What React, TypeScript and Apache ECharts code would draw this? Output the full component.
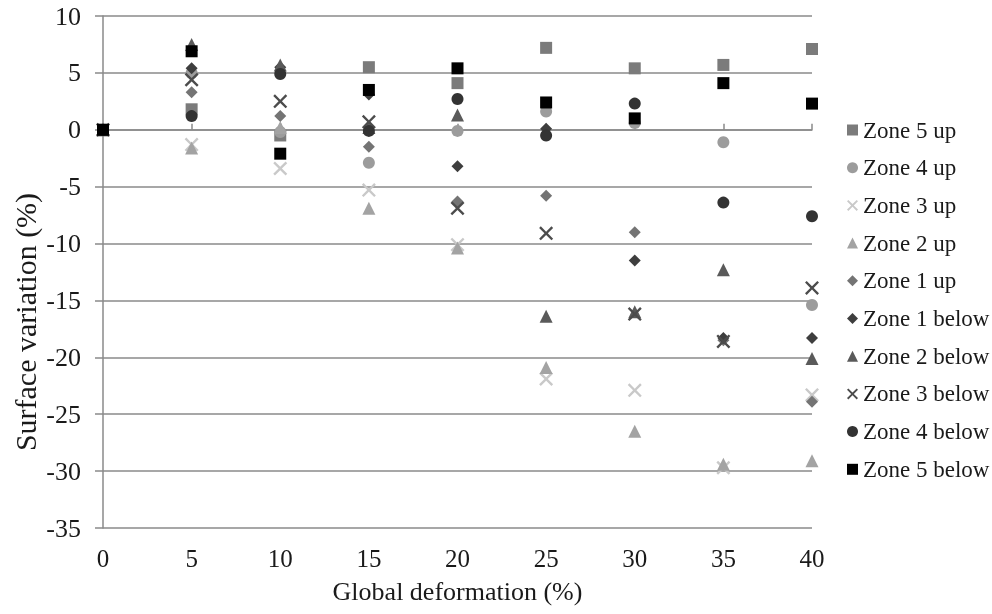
import React, { useEffect, useRef } from "react";
import * as echarts from "echarts";

const xValues = [0, 5, 10, 15, 20, 25, 30, 35, 40];

const seriesNames = [
  "Zone 5 up",
  "Zone 4 up",
  "Zone 3 up",
  "Zone 2 up",
  "Zone 1 up",
  "Zone 1 below",
  "Zone 2 below",
  "Zone 3 below",
  "Zone 4 below",
  "Zone 5 below",
];

const zone5up = [0, 1.8, -0.5, 5.5, 4.1, 7.2, 5.4, 5.7, 7.1];
const zone4up = [0, 5.0, -0.2, -2.9, -0.1, 1.6, 0.6, -1.1, -15.4];
const zone3up = [0, -1.3, -3.4, -5.3, -10.1, -21.9, -22.9, -29.7, -23.3];
const zone2up = [0, -1.6, 0.2, -6.9, -10.4, -20.9, -26.5, -29.4, -29.1];
const zone1up = [0, 3.3, 1.2, -1.5, -6.3, -5.8, -9.0, -18.5, -23.9];
const zone1below = [0, 5.4, 5.5, 3.1, -3.2, 0.1, -11.5, -18.3, -18.3];
const zone2below = [0, 7.5, 5.7, 0.2, 1.3, -16.4, -16.0, -12.3, -20.1];
const zone3below = [0, 4.4, 2.5, 0.7, -6.9, -9.1, -16.2, -18.6, -13.9];
const zone4below = [0, 1.2, 4.9, -0.1, 2.7, -0.5, 2.3, -6.4, -7.6];
const zone5below = [0, 6.9, -2.1, 3.5, 5.4, 2.4, 1.0, 4.1, 2.3];

const seriesValues = [
  zone5up,
  zone4up,
  zone3up,
  zone2up,
  zone1up,
  zone1below,
  zone2below,
  zone3below,
  zone4below,
  zone5below,
];

const yTicks = { min: -35, max: 10, interval: 5 };

const X_PATH =
  "path://M0,1.2L1.2,0L5,3.8L8.8,0L10,1.2L6.2,5L10,8.8L8.8,10L5,6.2L1.2,10L0,8.8L3.8,5Z";

const styles = [
  { symbol: "rect", size: 12, color: "#7b7b7b" },
  { symbol: "circle", size: 12, color: "#9c9c9c" },
  { symbol: X_PATH, size: 14, color: "#c9c9c9" },
  { symbol: "triangle", size: 13, color: "#a3a3a3" },
  { symbol: "diamond", size: 12, color: "#747474" },
  { symbol: "diamond", size: 12, color: "#3e3e3e" },
  { symbol: "triangle", size: 13, color: "#5a5a5a" },
  { symbol: X_PATH, size: 14, color: "#4c4c4c" },
  { symbol: "circle", size: 12, color: "#333333" },
  { symbol: "rect", size: 12, color: "#000000" },
];

const FONT = "Liberation Serif";
const GRID_COLOR = "#8a8a8a";

export default function App() {
  const ref = useRef<HTMLDivElement>(null);

  useEffect(() => {
    if (!ref.current) return;
    const chart = echarts.init(ref.current, null, { renderer: "svg" });
    const series = seriesNames.map((name, i) => ({
      name,
      type: "scatter",
      xAxisIndex: 0,
      yAxisIndex: 0,
      symbol: styles[i].symbol,
      symbolSize: styles[i].size,
      itemStyle: { color: styles[i].color, opacity: 1 },
      data: xValues.map((x, j) => [x, seriesValues[i][j]]),
      z: 3 + i,
    }));
    chart.setOption({
      animation: false,
      grid: { left: 103, right: 180, top: 16, bottom: 86 },
      xAxis: [
        {
          type: "value",
          min: 0,
          max: 40,
          interval: 5,
          position: "bottom",
          axisLine: { show: false, onZero: false },
          axisTick: { show: false },
          splitLine: { show: false },
          axisLabel: {
            margin: 18,
            fontFamily: FONT,
            fontSize: 25,
            color: "#1a1a1a",
          },
          name: "Global deformation (%)",
          nameLocation: "middle",
          nameGap: 50,
          nameTextStyle: { fontFamily: FONT, fontSize: 26, color: "#1a1a1a" },
        },
        {
          type: "value",
          min: 0,
          max: 40,
          interval: 5,
          position: "bottom",
          axisLine: {
            show: true,
            onZero: true,
            onZeroAxisIndex: 0,
            lineStyle: { color: GRID_COLOR, width: 1.5 },
          },
          axisTick: {
            show: true,
            inside: true,
            length: 6,
            lineStyle: { color: GRID_COLOR, width: 1.5 },
          },
          axisLabel: { show: false },
          splitLine: { show: false },
        },
      ],
      yAxis: {
        type: "value",
        min: yTicks.min,
        max: yTicks.max,
        interval: yTicks.interval,
        axisLine: { show: true, lineStyle: { color: GRID_COLOR, width: 1.5 } },
        axisTick: {
          show: true,
          inside: false,
          length: 8,
          lineStyle: { color: GRID_COLOR, width: 1.5 },
        },
        splitLine: { show: true, lineStyle: { color: GRID_COLOR, width: 1.5 } },
        axisLabel: {
          margin: 22,
          fontFamily: FONT,
          fontSize: 26,
          color: "#1a1a1a",
        },
      },
      legend: {
        orient: "vertical",
        left: 842,
        top: 113,
        itemWidth: 11,
        itemHeight: 11,
        itemGap: 13.7,
        data: seriesNames,
        textStyle: {
          fontFamily: FONT,
          fontSize: 23,
          lineHeight: 24,
          color: "#1a1a1a",
        },
      },
      graphic: [
        {
          type: "text",
          x: 25,
          y: 322,
          rotation: Math.PI / 2,
          style: {
            text: "Surface variation (%)",
            fontFamily: FONT,
            fontSize: 30,
            fill: "#1a1a1a",
            align: "center",
            verticalAlign: "middle",
          },
        },
      ],
      series,
    });
    return () => chart.dispose();
  }, []);

  return (
    <div
      ref={ref}
      style={{ position: "fixed", left: 0, top: 0, width: 992, height: 614 }}
    />
  );
}
